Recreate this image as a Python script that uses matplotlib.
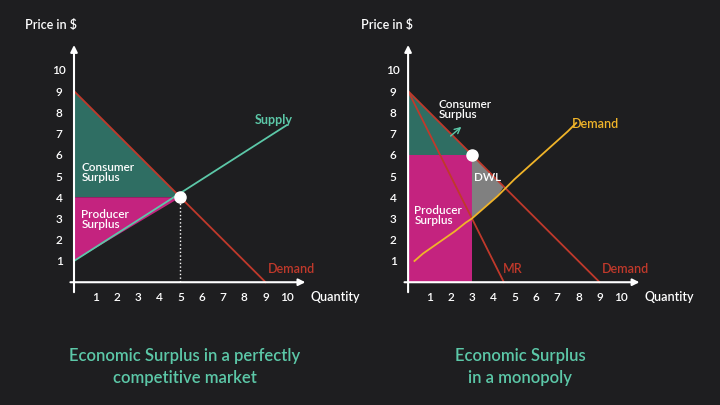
import matplotlib
matplotlib.use("Agg")
import matplotlib.pyplot as plt
import numpy as np
from matplotlib.patches import Polygon

plt.rcParams['font.family'] = ['Lato', 'DejaVu Sans']
BG = "#1e1e20"
TEAL = "#5cc8a8"
CS = "#2f6e63"
PS = "#c4237f"
RED = "#c0392b"
YEL = "#f0b429"
GREY = "#808080"

ticks = list(range(1, 11))
demand_x = [0, 9]; demand_y = [9, 0]
supply_x = [0, 10]; supply_y = [1, 7.4]
eq = (5, 4)
mr_x = [0, 4.5]; mr_y = [9, 0]
mc_x = [0.3, 0.7, 1.2, 1.7, 2.2, 2.7, 3.0, 3.4, 3.8, 4.2, 4.6, 5.0, 5.5, 6.0, 6.5, 7.0, 7.5, 7.9]
mc_y = [1.0, 1.35, 1.7, 2.05, 2.4, 2.8, 3.0, 3.35, 3.7, 4.05, 4.45, 4.85, 5.3, 5.75, 6.2, 6.65, 7.1, 7.5]
mono = (3, 6)

fig = plt.figure(figsize=(7.2, 4.06), dpi=100, facecolor=BG)
W = "semibold"

def setup(ax):
    ax.set_facecolor(BG)
    ax.set_xlim(-0.5, 11); ax.set_ylim(-0.6, 11.5)
    ax.axis("off")
    ax.annotate("", xy=(11, 0), xytext=(-0.3, 0), arrowprops=dict(arrowstyle="-|>", color="white", lw=1.5))
    ax.annotate("", xy=(0, 11.3), xytext=(0, -0.6), arrowprops=dict(arrowstyle="-|>", color="white", lw=1.5))
    for t in ticks:
        ax.text(t, -0.65, str(t), color="white", fontsize=8.5, ha="center", va="center", fontweight=W)
        ax.text(-0.7, t, str(t), color="white", fontsize=8.5, ha="center", va="center", fontweight=W)
    ax.text(11.1, -0.65, "Quantity", color="white", fontsize=9, ha="left", va="center", clip_on=False, fontweight=W)

ax1 = fig.add_axes([0.088, 0.271, 0.340, 0.633])
setup(ax1)
ax1.add_patch(Polygon([(0, 9), (0, 4), eq], color=CS, lw=0))
ax1.add_patch(Polygon([(0, 4), (0, 1), eq], color=PS, lw=0))
ax1.plot(demand_x, demand_y, color=RED, lw=1.3)
ax1.plot(supply_x, supply_y, color=TEAL, lw=1.3)
ax1.plot([eq[0], eq[0]], [0, eq[1]], ls=":", color="white", lw=1)
ax1.plot(*eq, "o", color="white", ms=8, zorder=5)
ax1.text(0.35, 5.2, "Consumer\nSurplus", color="white", fontsize=8.5, va="center", linespacing=0.9, fontweight=W)
ax1.text(0.35, 3.0, "Producer\nSurplus", color="white", fontsize=8.5, va="center", linespacing=0.9, fontweight=W)
ax1.text(8.5, 7.7, "Supply", color=TEAL, fontsize=9, fontweight="bold", ha="left", va="center")
ax1.text(10.2, 0.65, "Demand", color=RED, fontsize=9, ha="center", va="center", fontweight=W)

ax2 = fig.add_axes([0.552, 0.271, 0.340, 0.633])
setup(ax2)
ax2.add_patch(Polygon([(0, 0), (0, 6), (3, 6), (3, 0)], color=PS, lw=0))
ax2.add_patch(Polygon([(0, 9), (0, 6), mono], color=CS, lw=0))
ax2.add_patch(Polygon([(3, 6), (3, 3), (3.4, 3.35), (3.8, 3.7), (4.2, 4.05), (4.5, 4.5)], color=GREY, lw=0))
ax2.plot(demand_x, demand_y, color=RED, lw=1.3)
ax2.plot(mr_x, mr_y, color=RED, lw=1.3)
ax2.plot(mc_x, mc_y, color=YEL, lw=1.3)
ax2.plot(*mono, "o", color="white", ms=8, zorder=5)
ax2.text(1.45, 8.2, "Consumer\nSurplus", color="white", fontsize=8.5, va="center", linespacing=0.9, fontweight=W)
ax2.annotate("", xy=(2.6, 7.4), xytext=(1.9, 6.8), arrowprops=dict(arrowstyle="->", color=TEAL, lw=1))
ax2.text(0.3, 3.2, "Producer\nSurplus", color="white", fontsize=8.5, va="center", linespacing=0.9, fontweight=W)
ax2.text(3.1, 5.0, "DWL", color="white", fontsize=8.5, va="center", fontweight=W)
ax2.text(4.9, 0.65, "MR", color=RED, fontsize=9, ha="center", va="center", fontweight=W)
ax2.text(7.7, 7.5, "Demand", color=YEL, fontsize=9, ha="left", va="center", fontweight=W)
ax2.text(10.2, 0.65, "Demand", color=RED, fontsize=9, ha="center", va="center", fontweight=W)

fig.text(25/720, 1 - 25/406, "Price in $", color="white", fontsize=9, va="center", fontweight=W)
fig.text(361/720, 1 - 25/406, "Price in $", color="white", fontsize=9, va="center", fontweight=W)
fig.text(185/720, 1 - 367/406, "Economic Surplus in a perfectly\ncompetitive market", color=TEAL,
         fontsize=12, ha="center", va="center", linespacing=1.45, fontweight=W)
fig.text(520/720, 1 - 367/406, "Economic Surplus\nin a monopoly", color=TEAL,
         fontsize=12, ha="center", va="center", linespacing=1.45, fontweight=W)

fig.savefig("out.png", dpi=100, facecolor=BG)
